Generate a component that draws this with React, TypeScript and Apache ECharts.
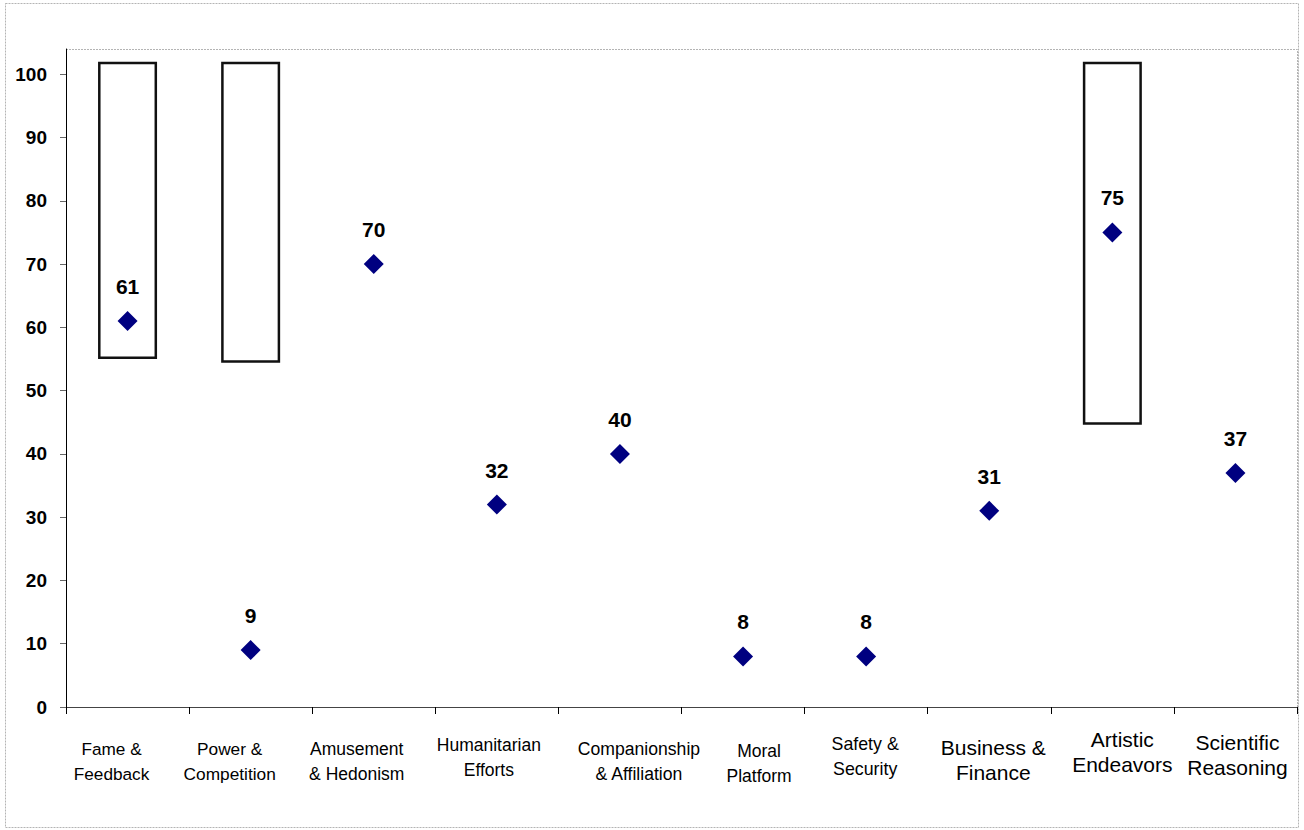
import React, { useEffect, useRef } from "react";
import * as echarts from "echarts";

const categories = [
  "Fame &\nFeedback",
  "Power &\nCompetition",
  "Amusement\n& Hedonism",
  "Humanitarian\nEfforts",
  "Companionship\n& Affiliation",
  "Moral\nPlatform",
  "Safety &\nSecurity",
  "Business &\nFinance",
  "Artistic\nEndeavors",
  "Scientific\nReasoning",
];
const scores = [61, 9, 70, 32, 40, 8, 8, 31, 75, 37];
const rangeLow: (number | null)[] = [55, 54.4, null, null, null, null, null, null, 44.6, null];
const rangeHigh: (number | null)[] = [102, 102, null, null, null, null, null, null, 102, null];
const yTicks = [0, 10, 20, 30, 40, 50, 60, 70, 80, 90, 100];
const yMax = 104;

// label appearance per category (style only)
const labelFontSizes = [17.2, 17.3, 17.5, 17.5, 17.6, 17.5, 17.8, 21, 21, 21];
const labelPadTop = [9, 9, 9, 5, 9, 11, 4, 8, 0, 3];
const labelShiftX = [-16, -21, -17, -8, 19, 16, -1, 4, 10, 2];

const FONT = "'Liberation Sans', Arial, sans-serif";

export default function App() {
  const ref = useRef<HTMLDivElement>(null);
  useEffect(() => {
    if (!ref.current) return;
    const chart = echarts.init(ref.current, undefined, { renderer: "svg" });
    const W = 1304;
    const H = 830;
    const gl = 66, gr = 7, gt = 49, gb = 123;
    const rangeSpan = rangeHigh.map((h, i) =>
      h == null || rangeLow[i] == null ? null : +(h - (rangeLow[i] as number)).toFixed(2)
    );
    chart.setOption({
      animation: false,
      backgroundColor: "#fff",
      textStyle: { fontFamily: FONT },
      grid: { left: gl, right: gr, top: gt, bottom: gb, containLabel: false },
      graphic: [
        {
          type: "rect",
          shape: { x: 5.5, y: 3.5, width: W - 11, height: H - 6 },
          style: { fill: "none", stroke: "#b4b4b4", lineWidth: 1, lineDash: [2, 1] },
          silent: true,
          z: -10,
        },
        {
          type: "polyline",
          shape: { points: [[gl, gt + 0.5], [W - gr + 0.5, gt + 0.5], [W - gr + 0.5, H - gb]] },
          style: { fill: "none", stroke: "#b4b4b4", lineWidth: 1, lineDash: [2, 1] },
          silent: true,
          z: -10,
        },
      ],
      xAxis: {
        type: "category",
        data: categories.map((c, i) => {
          const s = labelShiftX[i];
          return {
            value: c,
            textStyle: {
              fontSize: labelFontSizes[i],
              lineHeight: 25,
              padding: [labelPadTop[i], s < 0 ? -2 * s : 0, 0, s > 0 ? 2 * s : 0],
            },
          };
        }),
        boundaryGap: true,
        axisLine: { show: true, lineStyle: { color: "#444", width: 1 } },
        axisTick: { show: true, length: 7, alignWithLabel: false, lineStyle: { color: "#000" } },
        axisLabel: {
          interval: 0,
          margin: 20,
          color: "#000",
          fontFamily: FONT,
          fontSize: 17,
          lineHeight: 25,
          align: "center",
        },
        splitLine: { show: false },
      },
      yAxis: {
        type: "value",
        min: 0,
        max: yMax,
        interval: 10,
        axisLine: { show: true, lineStyle: { color: "#000", width: 1 } },
        axisTick: { show: true, length: 6, lineStyle: { color: "#666" }, customValues: yTicks },
        axisLabel: {
          customValues: yTicks,
          margin: 19,
          color: "#000",
          fontWeight: "bold",
          fontSize: 19,
          fontFamily: FONT,
          formatter: (v: number) => (yTicks.includes(v) ? String(v) : ""),
        },
        splitLine: { show: false },
      },
      series: [
        {
          type: "bar",
          stack: "range",
          data: rangeLow,
          barWidth: 59,
          itemStyle: { color: "transparent", borderWidth: 0 },
          silent: true,
          z: 1,
        },
        {
          type: "bar",
          stack: "range",
          data: rangeSpan,
          barWidth: 59,
          itemStyle: { color: "#fff", borderColor: "#111", borderWidth: 2.5 },
          silent: true,
          z: 1,
        },
        {
          type: "scatter",
          data: scores,
          symbol: "diamond",
          symbolSize: 20,
          itemStyle: { color: "#000080", opacity: 1 },
          label: {
            show: true,
            position: "top",
            distance: 14,
            color: "#000",
            opacity: 1,
            fontWeight: "bold",
            fontSize: 21,
            fontFamily: FONT,
          },
          z: 5,
        },
      ],
    });
    return () => chart.dispose();
  }, []);
  return (
    <div
      ref={ref}
      style={{ position: "absolute", left: 0, top: 0, width: 1304, height: 830 }}
    />
  );
}
